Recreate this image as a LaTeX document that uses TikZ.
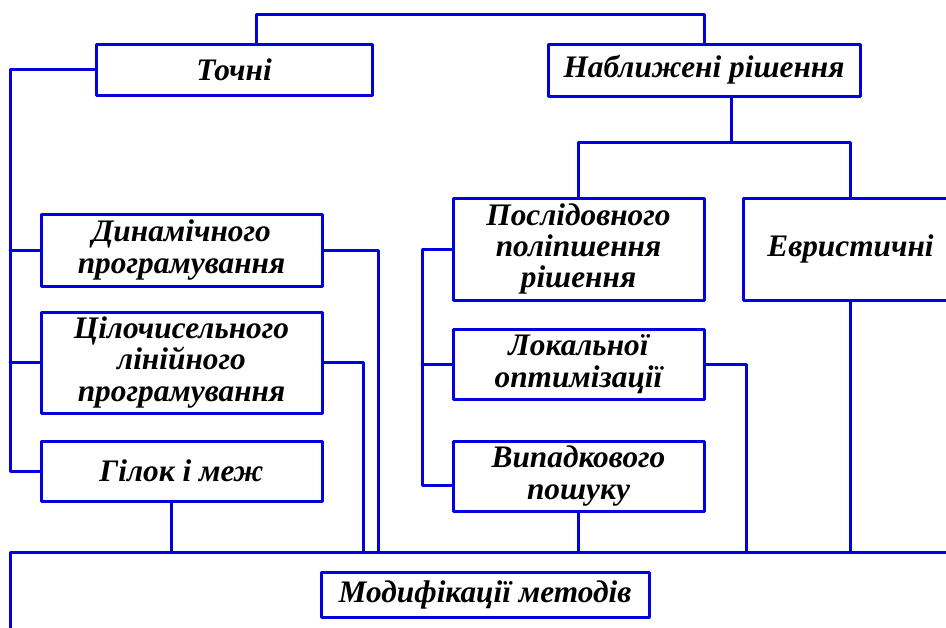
\documentclass[tikz,border=0pt]{standalone}
\usepackage{fontspec}
\setmainfont{Liberation Serif}
\usepackage{tikz}
\definecolor{netblue}{RGB}{0,0,225}

\begin{document}
\begin{tikzpicture}[line cap=round,line join=round,x=0.75pt,y=-0.75pt,
    wire/.style={draw=netblue,line width=2.25pt},
    box/.style={wire,fill=white,align=center,inner sep=0pt,text=black,
      font=\fontsize{23.5}{23.5}\selectfont\bfseries\itshape}]
    \useasboundingbox (0,0) rectangle (946,628);
    \clip (0,0) rectangle (946,628);
    \node [box,minimum width=207pt,minimum height=38.25pt] (tochni) at (234,69.5) {Точні};
    \node [box,minimum width=234pt,minimum height=39pt] (nabl) at (704,70) {Наближені рішення};
    \node [box,minimum width=210.75pt,minimum height=54pt] (dyn) at (181.5,250) {Динамічного\\програмування};
    \node [box,minimum width=210.75pt,minimum height=75.75pt] (cilo) at (181.5,362.5) {Цілочисельного\\лінійного\\програмування};
    \node [box,minimum width=210.75pt,minimum height=45pt] (gilok) at (181.5,471) {Гілок і меж};
    \node [box,minimum width=188.25pt,minimum height=76.5pt] (posl) at (578.5,249) {Послідовного\\поліпшення\\рішення};
    \node [box,minimum width=161.25pt,minimum height=76.5pt] (evr) at (850.5,249) {Евристичні};
    \node [box,minimum width=188.25pt,minimum height=52.5pt] (lok) at (578.5,364) {Локальної\\оптимізації};
    \node [box,minimum width=188.25pt,minimum height=52.5pt] (vyp) at (578.5,476) {Випадкового\\пошуку};
    \node [box,minimum width=246pt,minimum height=33.75pt] (mod) at (485,594.5) {Модифікації методів};
    \coordinate (tl) at (256,14);
    \coordinate (tr) at (704,14);
    \coordinate (ltrunk) at (10,0);
    \coordinate (rtrunk) at (422,0);
    \coordinate (nfork) at (731,142);
    \coordinate (busl) at (10,552);
    \coordinate (busr) at (960,552);
    \coordinate (busd) at (10,640);
    \coordinate (dynb) at (378,552);
    \coordinate (cilob) at (363,552);
    \coordinate (gilb) at (171,552);
    \coordinate (lokb) at (746,552);
    \draw [wire] (tochni.north -| tl) -- (tl) -- (tr) -- (nabl.north);
    \draw [wire] (tochni.west) -- (tochni.west -| ltrunk) -- (gilok.west -| ltrunk) -- (gilok.west);
    \draw [wire] (dyn.west) -- (dyn.west -| ltrunk);
    \draw [wire] (cilo.west) -- (cilo.west -| ltrunk);
    \draw [wire] (nabl.south -| nfork) -- (nfork);
    \draw [wire] (posl.north) |- (nfork) -| (evr.north);
    \draw [wire] (posl.west) -- (posl.west -| rtrunk) -- ([yshift=-6.75pt]vyp.west -| rtrunk) -- ([yshift=-6.75pt]vyp.west);
    \draw [wire] (lok.west) -- (lok.west -| rtrunk);
    \draw [wire] (busd) -- (busl) -- (busr);
    \draw [wire] (dyn.east) -| (dynb);
    \draw [wire] (cilo.east) -| (cilob);
    \draw [wire] (gilok.south -| gilb) -- (gilb);
    \draw [wire] (lok.east) -| (lokb);
    \draw [wire] (vyp.south) -- (vyp.south |- busl);
    \draw [wire] (evr.south) -- (evr.south |- busl);
\end{tikzpicture}
\end{document}
